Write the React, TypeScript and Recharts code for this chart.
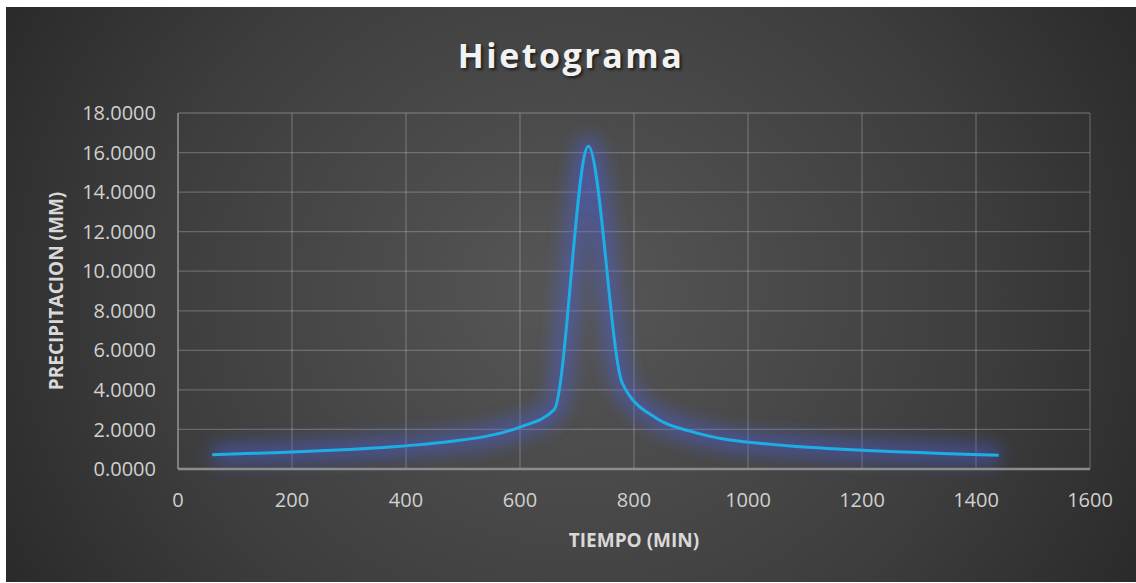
import { CartesianGrid, Line, LineChart, XAxis, YAxis } from "recharts"

// tiempo (min) y precipitacion (mm), bloques alternos
const tiempo = [
    60, 120, 180, 240, 300, 360, 420, 480, 540, 600, 660, 720,
    780, 840, 900, 960, 1020, 1080, 1140, 1200, 1260, 1320, 1380, 1440,
]
const precipitacion = [
    0.72, 0.78, 0.84, 0.91, 0.99, 1.09, 1.22, 1.4, 1.65, 2.12, 3.0, 16.32,
    4.3, 2.55, 1.9, 1.5, 1.3, 1.15, 1.04, 0.95, 0.87, 0.81, 0.75, 0.7,
]
const xTicks = [0, 200, 400, 600, 800, 1000, 1200, 1400, 1600]
const yTicks = [0, 2, 4, 6, 8, 10, 12, 14, 16, 18]

const data = tiempo.map((t, i) => ({ t, p: precipitacion[i] }))

const font = "'Open Sans', sans-serif"

export default function App() {
    return (
        <div
            style={{
                position: "absolute",
                left: 6,
                top: 7,
                width: 1130,
                height: 575,
                background:
                    "radial-gradient(ellipse 62% 110% at 50% 50%, #575757 0%, #3d3d3d 60%, #262626 100%)",
                fontFamily: font,
            }}
        >
            <div
                style={{
                    position: "absolute",
                    top: 25,
                    width: "100%",
                    textAlign: "center",
                    color: "#f2f2f2",
                    fontSize: 34,
                    fontWeight: 700,
                    letterSpacing: 2.5,
                    textShadow: "2px 2px 3px rgba(0,0,0,0.6)",
                }}
            >
                Hietograma
            </div>
            <LineChart
                width={1130}
                height={575}
                data={data}
                margin={{ top: 106, right: 46, bottom: 53, left: 72 }}
                style={{ position: "absolute", left: 0, top: 0 }}
            >
                <defs>
                    <filter id="glow" x="-20%" y="-20%" width="140%" height="140%">
                        <feGaussianBlur stdDeviation="9" />
                    </filter>
                </defs>
                <CartesianGrid stroke="rgba(217,217,217,0.28)" strokeWidth={1.3} />
                <XAxis
                    dataKey="t"
                    type="number"
                    domain={[0, 1600]}
                    ticks={xTicks}
                    height={60}
                    axisLine={{ stroke: "#8c8c8c", strokeWidth: 2.5 }}
                    tickLine={false}
                    tickSize={0}
                    tickMargin={24}
                    tick={{ fill: "#d0d0d0", fontSize: 20, fontFamily: font }}
                    label={{
                        value: "TIEMPO (MIN)",
                        position: "insideBottom",
                        offset: -18,
                        fill: "#d9d9d9",
                        fontSize: 19,
                        fontWeight: 700,
                        fontFamily: font,
                    }}
                />
                <YAxis
                    type="number"
                    domain={[0, 18]}
                    ticks={yTicks}
                    width={100}
                    axisLine={{ stroke: "#8c8c8c", strokeWidth: 1.5 }}
                    tickLine={false}
                    tickSize={0}
                    tickMargin={22}
                    tickFormatter={(v: number) => v.toFixed(4)}
                    tick={{ fill: "#d0d0d0", fontSize: 20, fontFamily: font }}
                    label={{
                        value: "PRECIPITACION (MM)",
                        angle: -90,
                        position: "insideLeft",
                        offset: -22,
                        style: { textAnchor: "middle" },
                        fill: "#d9d9d9",
                        fontSize: 19,
                        fontWeight: 700,
                        fontFamily: font,
                    }}
                />
                <Line
                    dataKey="p"
                    type="monotone"
                    stroke="#4b5fe0"
                    strokeOpacity={0.5}
                    strokeWidth={20}
                    filter="url(#glow)"
                    dot={false}
                    activeDot={false}
                    isAnimationActive={false}
                />
                <Line
                    dataKey="p"
                    type="monotone"
                    stroke="#1daee6"
                    strokeWidth={3}
                    dot={false}
                    activeDot={false}
                    isAnimationActive={false}
                />
            </LineChart>
        </div>
    )
}
